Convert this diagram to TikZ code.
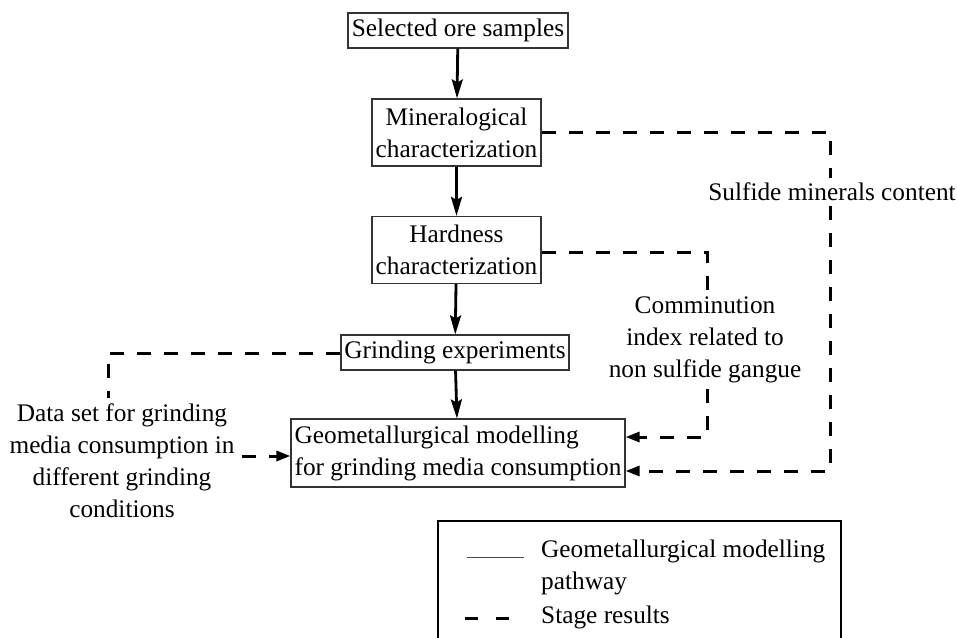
\documentclass[tikz,border=0pt]{standalone}
\usepackage{fontspec}
\setmainfont{Liberation Serif}
\usetikzlibrary{arrows.meta}
\begin{document}
\begin{tikzpicture}[x=1pt,y=-1pt,
  txt/.style={font=\fontsize{25.3}{32}\selectfont, inner sep=0pt},
  stepbox/.style={txt, draw=black!80, line width=1.2pt, align=center},
  flow/.style={line width=2.8pt, -{Stealth[length=19pt,width=11pt,inset=3pt]}},
  res/.style={line width=3pt, dash pattern=on 14pt off 13pt},
  resarrow/.style={res, -{Triangle[length=14pt,width=10pt]}}]
\useasboundingbox (0,0) rectangle (957,637);
\clip (0,0) rectangle (957,637);

% main boxes
\node[stepbox, minimum width=220pt, minimum height=35pt] (sel) at (458,30.5) {Selected ore samples};
\node[stepbox, minimum width=169pt, minimum height=67pt] (min) at (456.5,132.5) {Mineralogical\\characterization};
\node[stepbox, minimum width=169pt, minimum height=67pt] (hard) at (456.5,250) {Hardness\\characterization};
\node[stepbox, minimum width=228pt, minimum height=35pt] (grind) at (455,352.5) {Grinding experiments};
\node[stepbox, minimum width=334pt, minimum height=68pt, align=left] (geo) at (458,453) {Geometallurgical modelling\\for grinding media consumption};

% labels
\node[txt, inner sep=5pt] (sulf) at (832,192) {Sulfide minerals content};
\node[txt, align=center, inner ysep=6pt] (comm) at (705,340) {Comminution\\index related to\\non sulfide gangue};
\node[txt, align=center, inner ysep=6pt] (data) at (122,461) {Data set for grinding\\media consumption in\\different grinding\\conditions};

% coordinates
\coordinate (c1) at (830,132.5);
\coordinate (c2) at (830,471);
\coordinate (c3) at (707,252);
\coordinate (c4) at (707,437);
\coordinate (c5) at (108,353);
\coordinate (d1) at (242,456);

% solid pathway
\draw[flow] (sel) -- (min);
\draw[flow] (min) -- (hard);
\draw[flow] (hard) -- (grind);
\draw[flow] (grind) -- (geo);

% stage results
\draw[res] (min.east |- c1) -- (c1) -- (c1 |- sulf.north);
\draw[resarrow] (c1 |- sulf.south) -- (c2) -- (geo.east |- c2);
\draw[res] (hard.east |- c3) -- (c3) -- (c3 |- comm.north);
\draw[resarrow] (c3 |- comm.south) -- (c4) -- (geo.east |- c4);
\draw[res] (grind.west |- c5) -- (c5) -- (c5 |- data.north);
\draw[resarrow] (d1) -- (geo.west |- d1);

% legend
\draw[line width=2pt] (438,660) -- (438,521) -- (841,521) -- (841,660);
\coordinate (l1a) at (467,557);
\coordinate (l1b) at (524,557);
\draw[line width=1pt, black!70] (l1a) -- (l1b);
\node[txt, anchor=west, align=left] (leg1) at (541,567) {Geometallurgical modelling\\pathway};
\coordinate (l2a) at (465,618);
\coordinate (l2b) at (509,618);
\draw[line width=3pt, dash pattern=on 13pt off 18pt] (l2a) -- (l2b);
\node[txt, anchor=west] (leg2) at (541,617) {Stage results};
\end{tikzpicture}
\end{document}
